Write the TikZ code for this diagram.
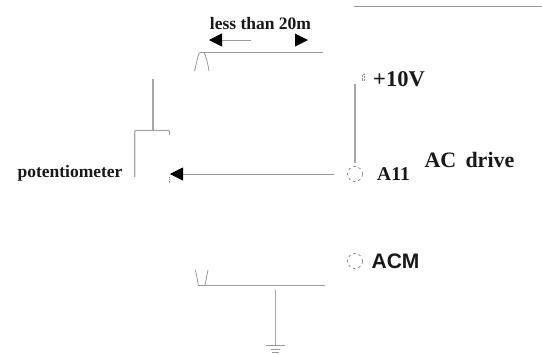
\documentclass[tikz,border=0pt]{standalone}
\usepackage{fontspec}
\setmainfont{Liberation Serif}
\setsansfont{Liberation Sans}
\usetikzlibrary{arrows.meta,positioning,calc}

\tikzset{
    wire/.style={draw=black!35,line width=1.1pt},
    thinwire/.style={draw=black!40,line width=0.8pt},
    term/.style={circle,draw=black!65,dash pattern=on 2.5pt off 3pt,line width=0.5pt,minimum size=15pt,inner sep=0pt},
    tag/.style={inner sep=0pt,text=black!90},
    tip/.style={-{Triangle[length=13pt,width=13pt,black]}}
}

\begin{document}
\begin{tikzpicture}[x=1pt,y=-1pt]
    \useasboundingbox (0,0) rectangle (542,354);

    % Bornes
    \node[term] (ai) at (355,174) {};
    \node[term] (acm) at (355,261) {};
    \coordinate (vplus) at (355,84);
    \coordinate (vtop) at (355,163);
    \node[draw=black!45,densely dotted,line width=0.5pt,minimum width=2pt,minimum height=6pt,inner sep=0pt] (vmark) at (363,77) {};

    % Textes
    \node[tag,font=\fontsize{22.5}{24}\selectfont] (vlabel) at (399,79) {\textbf{+10V}};
    \node[tag,font=\bfseries\fontsize{19.5}{21}\selectfont] (ailabel) at (393.5,174.5) {A11};
    \node[tag,font=\bfseries\fontsize{22}{24}\selectfont] (drive) at (469.5,160) {AC\, drive};
    \node[tag,font=\sffamily\bfseries\fontsize{21}{23}\selectfont] (acmlabel) at (395.5,261) {ACM};
    \node[tag,font=\bfseries\fontsize{17.5}{19}\selectfont] (pot) at (70,173) {potentiometer};
    \node[tag,font=\bfseries\fontsize{17.5}{19}\selectfont] (dist) at (260.5,24) {less than 20m};

    % Cadre haut
    \coordinate (frameL) at (354,6.5);
    \coordinate (frameR) at (542,6.5);
    \draw[thinwire] (frameL) -- (frameR);

    % Blindage haut
    \coordinate (shieldA) at (200,52.5);
    \coordinate (shieldB) at (323,52.5);
    \draw[thinwire] (shieldA) -- (shieldB);
    \draw[thinwire] (194.5,71) .. controls (197,62) and (198,52.5) .. (shieldA) -- (204,52.5) .. controls (206,56) and (208,64) .. (209,71);

    % Fleches de distance
    \coordinate (dimL) at (251,40);
    \coordinate (dimLtip) at (209,40);
    \draw[thinwire,tip] (dimL) -- (dimLtip);
    \fill[black] (295,33.5) -- (308,40) -- (295,46.5) -- cycle;

    % Potentiometre
    \coordinate (potin) at (153,79);
    \coordinate (pottop) at (153,130.5);
    \coordinate (potL) at (134.7,177);
    \coordinate (potR) at (169.5,135);
    \draw[wire] (potin) -- (pottop);
    \draw[wire,rounded corners=1pt] (potL) |- (potR |- pottop) -- (potR);
    \draw[thinwire,densely dotted] (169,177) -- (169,184);

    % Curseur
    \draw[thinwire,tip] (ai.west) ++(-13,0) -- (170,174);

    % Liaison +10V
    \draw[wire] (vplus) -- (vtop);

    % Blindage bas
    \coordinate (lowA) at (198,285);
    \coordinate (lowB) at (325,285);
    \coordinate (gndtop) at (275.5,290);
    \coordinate (gnd) at (275.5,345.5);
    \draw[thinwire] (lowA) -- (lowB);
    \draw[thinwire] (195.5,270) .. controls (196.5,276) and (198,281) .. (lowA);
    \draw[thinwire] (208,270) .. controls (207,275) and (206,280) .. (205,285);

    % Masse
    \draw[wire] (gndtop) -- (gnd);
    \draw[thinwire] (266,345.5) -- (285,345.5);
    \draw[thinwire] (271,349) -- (280,349);
    \draw[thinwire] (272,352) -- (279,352);
\end{tikzpicture}
\end{document}
